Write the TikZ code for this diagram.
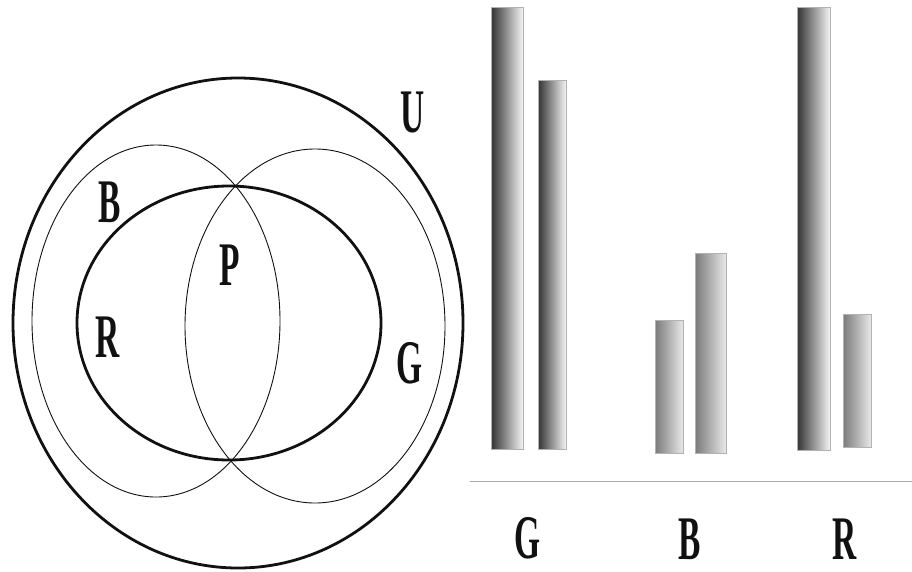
\documentclass[tikz,border=0pt]{standalone}
\usepackage{fontspec}
\setmainfont{Liberation Serif}
\usetikzlibrary{positioning}
\definecolor{ink}{HTML}{111111}
\definecolor{bardark}{HTML}{333333}
\definecolor{barmid}{HTML}{7A7A7A}
\definecolor{barlight}{HTML}{F4F4F4}
\definecolor{axisgray}{HTML}{A8A8A8}
\tikzset{
  setlabel/.style={font=\bfseries\fontsize{62}{62}\selectfont, xscale=0.54, text=ink, inner sep=0pt},
  tallbar/.style={left color=bardark, right color=barlight, draw=gray!60, line width=0.6pt},
  shortbar/.style={left color=barmid, right color=barlight!90!gray, draw=gray!60, line width=0.6pt}
}

\begin{document}
\begin{tikzpicture}[x=1pt,y=-1pt]
\useasboundingbox (0,0) rectangle (912,571);
% venn diagram
\draw[ink, line width=2.8pt] (238,323) ellipse [x radius=225, y radius=245];
\draw[ink, line width=0.9pt] (156,321) ellipse [x radius=124, y radius=176];
\draw[ink, line width=0.9pt] (315,326) ellipse [x radius=130, y radius=177];
\draw[ink, line width=2.8pt] (229,323) ellipse [x radius=152, y radius=137];
\node[setlabel] (labU) at (413,112) {U};
\node[setlabel] (labB) at (110,202) {B};
\node[setlabel] (labP) at (230,265) {P};
\node[setlabel] (labR) at (108,337) {R};
\node[setlabel] (labG) at (410,363) {G};
% bar chart
\draw[tallbar] (491,7) rectangle (523,449);
\draw[tallbar] (538,80) rectangle (566,449);
\draw[shortbar] (655,320) rectangle (683,453);
\draw[shortbar] (695,253) rectangle (726,453);
\draw[tallbar] (797,7) rectangle (830,450);
\draw[shortbar] (843,314) rectangle (871,447);
\draw[axisgray, line width=1pt] (470,481) -- (912,481);
\node[setlabel] (catG) at (528,538) {G};
\node[setlabel] (catB) at (690,539) {B};
\node[setlabel] (catR) at (845,539) {R};
\end{tikzpicture}
\end{document}
